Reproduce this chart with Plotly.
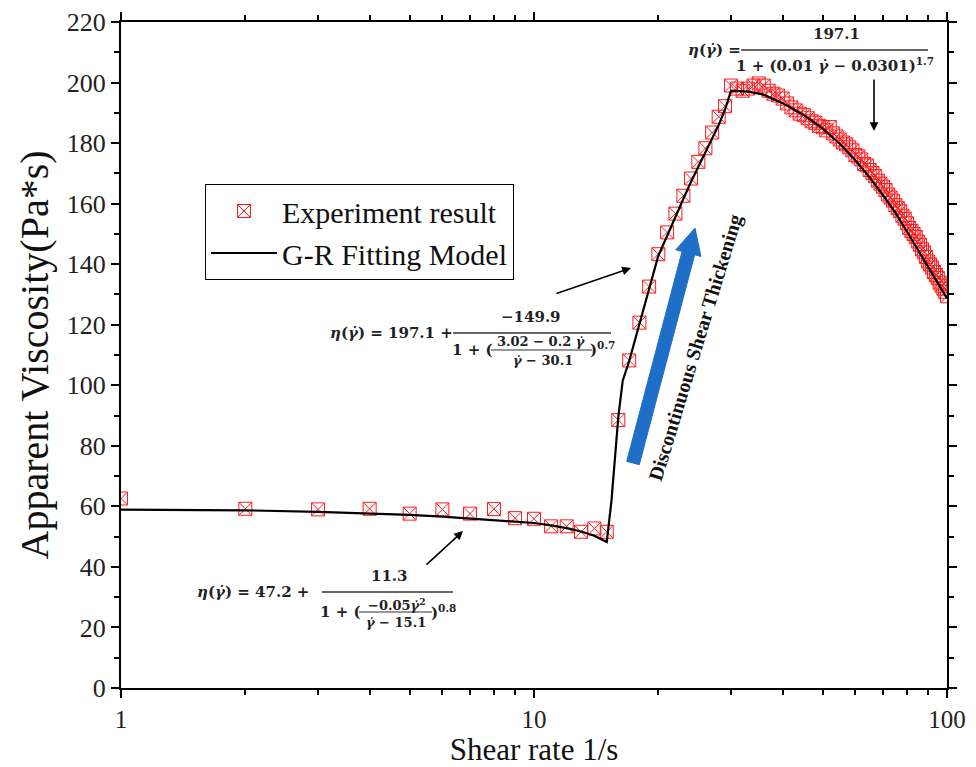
import plotly.graph_objects as go

# ---------------- data ----------------
shear_rate = list(range(1, 101))
viscosity = [
    62.6, 59.2, 59.0, 59.2, 57.6, 59.0, 57.6, 59.1, 56.1, 55.9,
    53.4, 53.4, 51.6, 52.7, 51.6, 88.5, 108.2, 120.7, 132.6, 143.3,
    150.5, 156.7, 162.6, 168.3, 173.8, 178.3, 183.5, 188.7, 192.2, 199.0,
    198.0, 197.3, 198.0, 199.0, 199.7, 199.0, 197.3, 196.3, 195.7, 194.7,
    193.1, 191.8, 190.8, 189.7, 189.2, 188.2, 187.2, 186.7, 185.7, 185.2,
    184.2, 185.3, 183.2, 182.2, 181.2, 180.2, 179.6, 178.6, 177.6, 176.1,
    175.6, 174.6, 173.1, 172.6, 171.1, 170.1, 169.1, 167.6, 166.6, 165.6,
    164.5, 163.0, 162.0, 161.0, 159.5, 158.5, 157.5, 156.0, 155.0, 153.5,
    152.0, 151.0, 150.0, 149.0, 147.5, 146.4, 144.9, 143.9, 142.4, 140.9,
    139.9, 138.9, 137.4, 136.4, 135.4, 133.9, 132.9, 131.9, 130.9, 129.4,
]

fit_x = [1, 2, 3, 4, 5, 6, 7, 8, 9, 10, 11, 12, 13, 14, 15,
         15.4, 16, 16.4, 17, 18, 19, 20, 21, 22, 23, 24, 25, 26, 27, 28, 29, 30,
         33, 36, 40, 45, 50, 55, 60, 65, 70, 75, 80, 85, 90, 95, 100]
fit_y = [58.9, 58.7, 58.2, 57.7, 57.2, 56.6, 56.0, 55.5, 55.0, 54.5, 53.7, 52.8, 51.7, 50.3, 48.2,
         61.8, 89.5, 101.5, 108.0, 120.3, 132.2, 142.8, 149.3, 155.8, 161.6, 167.2, 172.3, 177.0,
         181.5, 186.0, 191.0, 197.3,
         197.0, 196.0, 193.2, 189.3, 184.8, 179.8, 174.3, 168.6, 162.8, 157.0, 150.8,
         144.9, 139.1, 133.8, 128.7]

x_major = [1, 10, 100]
x_major_labels = ["1", "10", "100"]
x_minor = [2, 3, 4, 5, 6, 7, 8, 9, 20, 30, 40, 50, 60, 70, 80, 90]
y_major = list(range(0, 221, 20))

legend_names = ["Experiment result", "G-R Fitting Model"]
x_title = "Shear rate 1/s"
y_title = "Apparent Viscosity(Pa*s)"
arrow_label = "Discontinuous Shear Thickening"

# ---------------- geometry helpers (pixel -> paper) ----------------
OFF = 8                      # page body margin in the browser
W, H = 976 - OFF, 767 - OFF
L, R, T, B = 121, 947, 22, 688   # target plot area in window pixels


def px(x):
    return (x - L) / (R - L)


def py(y):
    return (B - y) / (B - T)


SERIF = "Liberation Serif, Times New Roman, serif"
MATH = "DejaVu Serif, serif"

fig = go.Figure()
fig.add_trace(go.Scatter(
    x=shear_rate, y=viscosity, mode="markers", name=legend_names[0],
    marker=dict(symbol="square-x-open", size=13, color="#ff1a1a",
                line=dict(width=1, color="#ff1a1a")),
))
fig.add_trace(go.Scatter(
    x=fit_x, y=fit_y, mode="lines", name=legend_names[1],
    line=dict(color="black", width=2.2),
))

axis_common = dict(
    showline=True, linecolor="black", linewidth=2, mirror="ticks",
    ticks="outside", tickwidth=2, tickcolor="black", ticklen=8,
    showgrid=False, zeroline=False, automargin=False,
)

fig.update_xaxes(
    type="log", range=[0, 2], tickvals=x_major, ticktext=x_major_labels,
    tickfont=dict(family=SERIF, size=25, color="#222"),
    minor=dict(tickvals=x_minor, ticks="outside", ticklen=5, tickwidth=2,
               tickcolor="black", showgrid=False),
    title=dict(text=x_title, font=dict(family=SERIF, size=31, color="#111"),
               standoff=0),
    **axis_common,
)
fig.update_yaxes(
    range=[0, 220], tickvals=y_major,
    tickfont=dict(family=SERIF, size=26, color="#222"),
    minor=dict(dtick=10, ticks="outside", ticklen=5, tickwidth=2,
               tickcolor="black", showgrid=False),
    title=dict(text=y_title, font=dict(family=SERIF, size=40, color="#111"),
               standoff=6),
    **axis_common,
)

fig.update_layout(
    width=W, height=H, autosize=False,
    margin=dict(l=L - OFF, r=W + OFF - R, t=T - OFF, b=H + OFF - B),
    paper_bgcolor="white", plot_bgcolor="white",
    showlegend=True,
    legend=dict(
        x=px(205), y=py(184), xanchor="left", yanchor="top",
        bordercolor="black", borderwidth=1, bgcolor="white",
        font=dict(family=SERIF, size=30, color="#111"),
        itemwidth=66, tracegroupgap=0,
    ),
)

EQ = dict(family=MATH, size=15, color="#222")
EQS = dict(family=MATH, size=13, color="#222")
G = "<i>γ̇</i>"


def txt(x, y, s, font=EQ, anchor="center"):
    fig.add_annotation(x=px(x), y=py(y), xref="paper", yref="paper",
                       text=s, showarrow=False, font=font,
                       xanchor=anchor, yanchor="middle")


def hline(x0, x1, y, w=1.3):
    fig.add_shape(type="line", xref="paper", yref="paper",
                  x0=px(x0), x1=px(x1), y0=py(y), y1=py(y),
                  line=dict(color="#333", width=w))


# top equation
txt(686, 50, f"<b><i>η</i>({G}) =</b>", anchor="left")
txt(836, 34, "<b>197.1</b>")
hline(741, 928, 50)
txt(835, 65, f"<b>1 + (0.01 {G} − 0.0301)<sup>1.7</sup></b>")

# middle equation
txt(328, 333, f"<b><i>η</i>({G}) = 197.1 +</b>", anchor="left")
txt(531, 317, "<b>−149.9</b>")
hline(453, 611, 333)
txt(472, 350, "<b>1 + (</b>")
txt(541, 341, f"<b>3.02 − 0.2 {G}</b>", font=EQS)
hline(491, 592, 350, 1.1)
txt(543, 360, f"<b>{G} − 30.1</b>", font=EQS)
txt(602, 349, "<b>)<sup>0.7</sup></b>")

# bottom equation
txt(195, 592, f"<b><i>η</i>({G}) = 47.2 +</b>", anchor="left")
txt(389, 576, "<b>11.3</b>")
hline(322, 453, 592)
txt(340, 612, "<b>1 + (</b>")
txt(396, 604, f"<b>−0.05{G}<sup>2</sup></b>", font=EQS)
hline(359, 432, 612, 1.1)
txt(396, 622, f"<b>{G} − 15.1</b>", font=EQS)
txt(443, 612, "<b>)<sup>0.8</sup></b>")


def arrow(hx, hy, tx, ty):
    fig.add_annotation(x=px(hx), y=py(hy), xref="paper", yref="paper",
                       ax=tx - hx, ay=ty - hy, text="", showarrow=True,
                       arrowhead=2, arrowsize=1.1, arrowwidth=1.6,
                       arrowcolor="black")


arrow(874, 131, 874, 78)
arrow(631, 268, 555, 294)
arrow(463, 531, 425, 566)

# blue arrow (filled polygon)
tx0, ty0 = 633, 463
hx0, hy0 = 695, 228
dx, dy = hx0 - tx0, hy0 - ty0
ln = (dx * dx + dy * dy) ** 0.5
ux, uy = dx / ln, dy / ln
nx, ny = -uy, ux
sw, hw, hl = 6.5, 13, 26
bx, by = hx0 - ux * hl, hy0 - uy * hl
pts = [
    (tx0 + nx * sw, ty0 + ny * sw),
    (bx + nx * sw, by + ny * sw),
    (bx + nx * hw, by + ny * hw),
    (hx0, hy0),
    (bx - nx * hw, by - ny * hw),
    (bx - nx * sw, by - ny * sw),
    (tx0 - nx * sw, ty0 - ny * sw),
]
path = "M " + " L ".join(f"{px(a):.5f},{py(b):.5f}" for a, b in pts) + " Z"
fig.add_shape(type="path", xref="paper", yref="paper", path=path,
              fillcolor="#1f6fc8", line=dict(color="#1f6fc8", width=1))

fig.add_annotation(x=px(695), y=py(348), xref="paper", yref="paper",
                   text=f"<b>{arrow_label}</b>", showarrow=False,
                   textangle=-73, font=dict(family=SERIF, size=20, color="#111"),
                   xanchor="center", yanchor="middle")

fig.write_html("out.html")
